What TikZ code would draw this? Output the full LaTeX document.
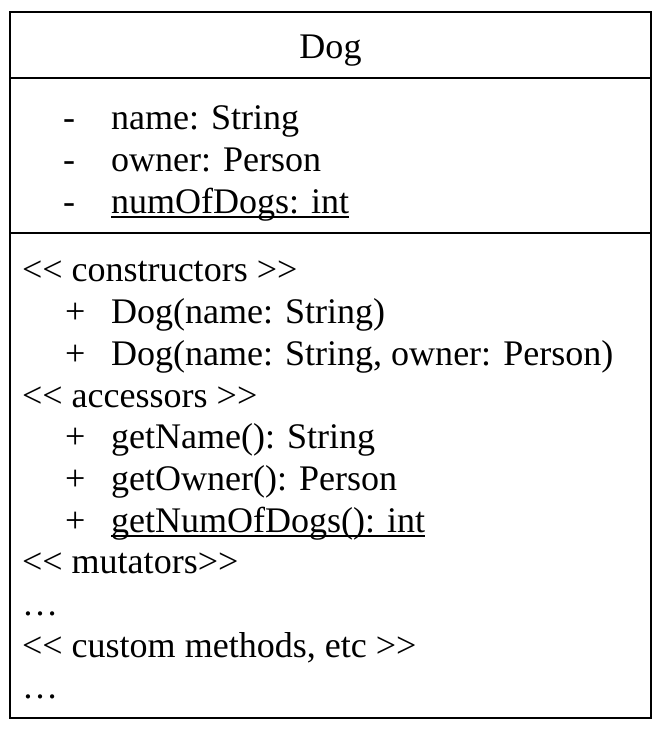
\documentclass[tikz,border=0pt]{standalone}
\usepackage{fontspec}
\setmainfont{Liberation Serif}
\usepackage{tikz}
\usetikzlibrary{positioning}

\newcommand{\umlfont}{\fontsize{20.5}{24}\selectfont}
\newcommand{\ulstatic}[1]{\setbox0\hbox{#1}\rlap{\rule[-0.14em]{\wd0}{0.055em}}\box0}

\begin{document}
\begin{tikzpicture}[line width = 1.2pt,
		member/.style = {anchor = base west, inner sep = 0pt, font = \umlfont},
		marker/.style = {member}]
		\useasboundingbox (0,0) rectangle (13.2,14.6);

		% class box and compartments
		\draw (0.2,0.24) rectangle (13.02,14.36);
		\draw (0.2,13.04) -- (13.02,13.04);
		\draw (0.2,9.94) -- (13.02,9.94);

		\node[anchor = base, inner sep = 0pt, font = \umlfont] (title) at (6.61,13.42) {Dog};

		% attributes
		\node[marker] (dashName) at (1.24,12.0) {-};
		\node[member] (attrName) at (2.2,12.0) {name: String};
		\node[marker] (dashOwner) at (1.24,11.166) {-};
		\node[member] (attrOwner) at (2.2,11.166) {owner: Person};
		\node[marker] (dashCount) at (1.24,10.332) {-};
		\node[member] (attrCount) at (2.2,10.332) {\ulstatic{numOfDogs: int}};

		% methods
		\node[member] (ctorHead) at (0.42,8.96) {<{}< constructors >{}>};
		\node[marker] (plusCtorA) at (1.28,8.126) {+};
		\node[member] (ctorA) at (2.2,8.126) {Dog(name: String)};
		\node[marker] (plusCtorB) at (1.28,7.292) {+};
		\node[member] (ctorB) at (2.2,7.292) {Dog(name: String, owner: Person)};

		\node[member] (getHead) at (0.42,6.458) {<{}< accessors >{}>};
		\node[marker] (plusGetName) at (1.28,5.624) {+};
		\node[member] (getName) at (2.2,5.624) {getName(): String};
		\node[marker] (plusGetOwner) at (1.28,4.79) {+};
		\node[member] (getOwner) at (2.2,4.79) {getOwner(): Person};
		\node[marker] (plusGetCount) at (1.28,3.956) {+};
		\node[member] (getCount) at (2.2,3.956) {\ulstatic{getNumOfDogs(): int}};

		\node[member] (setHead) at (0.42,3.122) {<{}< mutators>{}>};
		\node[member] (setDots) at (0.42,2.288) {…};
		\node[member] (customHead) at (0.42,1.454) {<{}< custom methods, etc >{}>};
		\node[member] (customDots) at (0.42,0.62) {…};

	\end{tikzpicture}
\end{document}
